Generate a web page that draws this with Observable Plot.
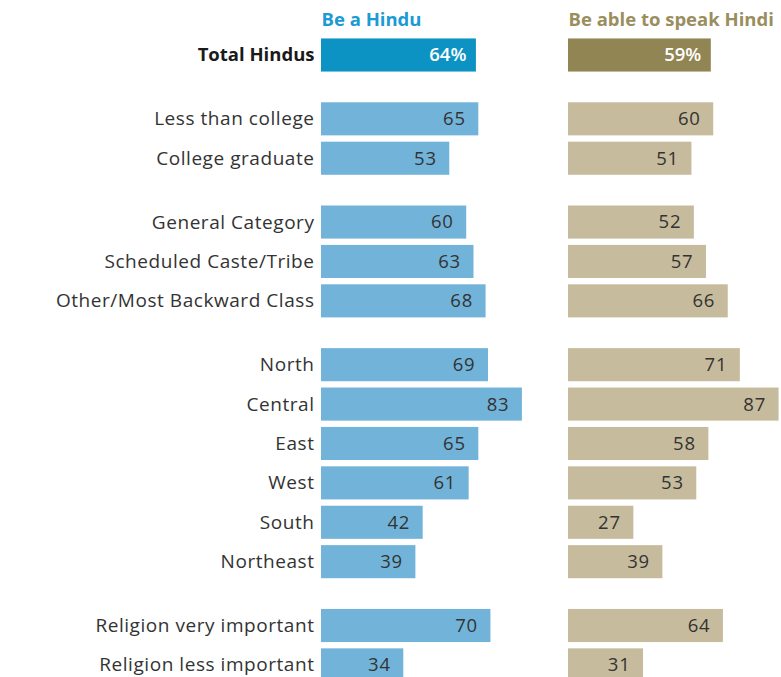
<!DOCTYPE html>
<html>
<head>
<meta charset="utf-8">
<script src="https://cdn.jsdelivr.net/npm/d3@7"></script>
<script src="https://cdn.jsdelivr.net/npm/@observablehq/plot@0.6"></script>
<style>
  html, body { margin: 0; padding: 0; background: #fff; }
  #chart svg { display: block; }
</style>
</head>
<body>
<div id="chart"></div>
<script>
const categories = [
  "Total Hindus",
  "Less than college", "College graduate",
  "General Category", "Scheduled Caste/Tribe", "Other/Most Backward Class",
  "North", "Central", "East", "West", "South", "Northeast",
  "Religion very important", "Religion less important"
];
const groupIndex = [0, 1, 1, 2, 2, 2, 3, 3, 3, 3, 3, 3, 4, 4];
const beHindu    = [64, 65, 53, 60, 63, 68, 69, 83, 65, 61, 42, 39, 70, 34];
const speakHindi = [59, 60, 51, 52, 57, 66, 71, 87, 58, 53, 27, 39, 64, 31];
const panels = ["Be a Hindu", "Be able to speak Hindi"];

const GROUP_GAP = 0.62;
const pos = categories.map((c, i) => i + groupIndex[i] * GROUP_GAP);

const colors = {
  "Be a Hindu": {total: "#0c93c4", other: "#72b3d9", head: "#1b9ad3"},
  "Be able to speak Hindi": {total: "#918554", other: "#c6bc9d", head: "#9a8e5e"}
};

const rows = [];
categories.forEach((c, i) => {
  rows.push({panel: panels[0], cat: c, value: beHindu[i], pos: pos[i], total: i === 0});
  rows.push({panel: panels[1], cat: c, value: speakHindi[i], pos: pos[i], total: i === 0});
});
const labels = categories.map((c, i) => ({panel: panels[0], cat: c, pos: pos[i], total: i === 0}));
const headers = panels.map(p => ({panel: p}));

const FONT = "'Open Sans', Roboto, sans-serif";
const FS = 18.5;
const chart = Plot.plot({
  width: 781,
  height: 677,
  marginLeft: 321,
  marginRight: 0,
  marginTop: 0,
  marginBottom: 0,
  style: {fontFamily: FONT, background: "#fff"},
  fx: {domain: panels, paddingInner: 0.138, paddingOuter: 0, axis: null},
  x: {domain: [0, 88], axis: null},
  y: {domain: [-1.396, 15.787], range: [0, 677], axis: null},
  color: {type: "identity"},
  marks: [
    Plot.rectX(rows, {
      fx: "panel", x1: 0, x2: "value",
      y1: d => d.pos - 0.42, y2: d => d.pos + 0.42,
      fill: d => d.total ? colors[d.panel].total : colors[d.panel].other
    }),
    Plot.text(rows.filter(d => d.total), {
      fx: "panel", x: "value", y: "pos",
      text: d => d.value + "%",
      textAnchor: "end", dx: -10,
      fill: "#ffffff", fontSize: FS, fontWeight: 600
    }),
    Plot.text(rows.filter(d => !d.total), {
      fx: "panel", x: "value", y: "pos",
      text: d => String(d.value),
      textAnchor: "end", dx: -13,
      fill: "#333333", fontSize: FS
    }),
    Plot.text(labels.filter(d => !d.total), {
      fx: "panel", x: 0, y: "pos", text: "cat",
      textAnchor: "end", dx: -7,
      fill: "#333333", fontSize: 19
    }),
    Plot.text(labels.filter(d => d.total), {
      fx: "panel", x: 0, y: "pos", text: "cat",
      textAnchor: "end", dx: -7,
      fill: "#1a1a1a", fontSize: FS, fontWeight: "bold"
    }),
    Plot.text(headers, {
      fx: "panel", x: 0, y: -0.89, text: "panel",
      textAnchor: "start",
      fill: d => colors[d.panel].head,
      fontSize: FS, fontWeight: "bold"
    })
  ]
});
// letter spacing tweaks by text-mark order: 0 total values, 1 values, 2 labels, 3 total label, 4 headers
const textGroups = chart.querySelectorAll('g[aria-label="text"]');
textGroups.forEach((g, i) => {
  if (i === 1) g.style.letterSpacing = "0.8px";
  if (i === 2) g.style.letterSpacing = "0.55px";
});
document.getElementById("chart").appendChild(chart);
</script>
</body>
</html>
